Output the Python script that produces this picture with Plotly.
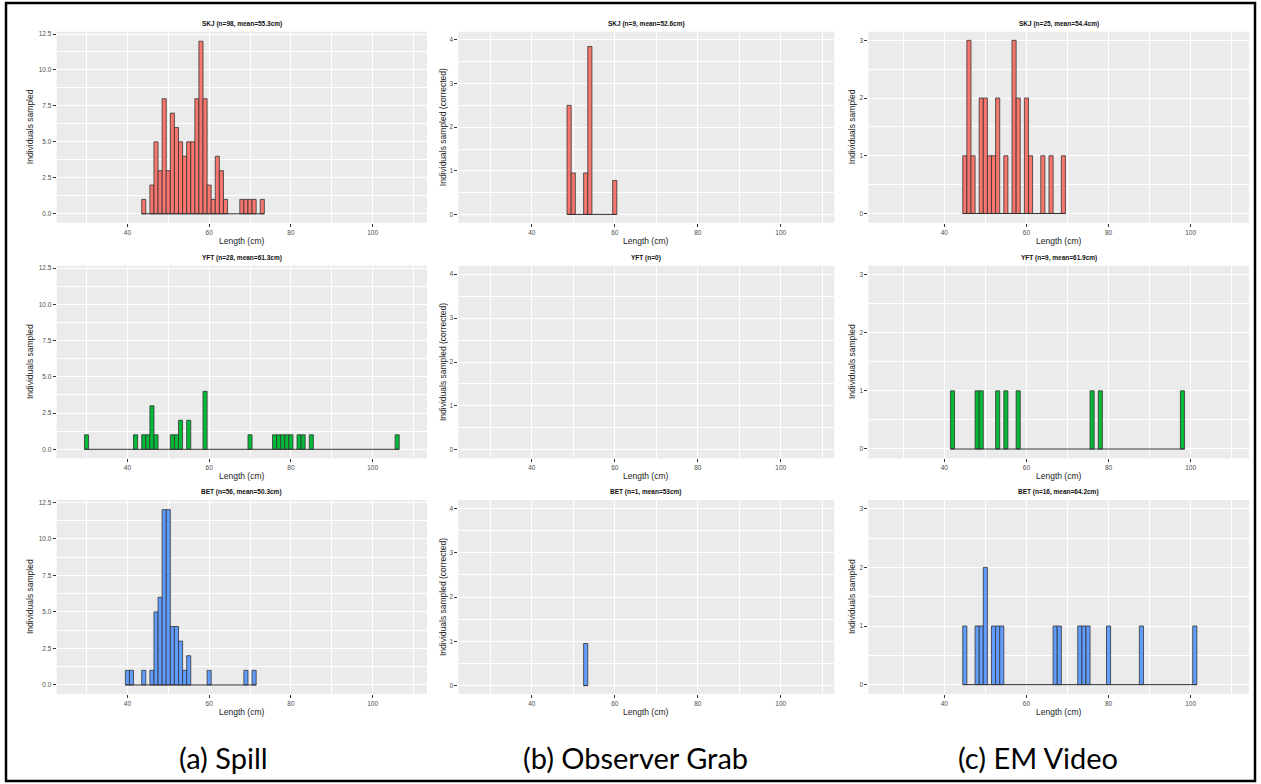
import plotly.graph_objects as go

# ---------------- data ----------------
spill_skj_len = [44, 46, 47, 48, 49, 50, 51, 52, 53, 54, 55, 56, 57, 58, 59, 60, 61, 62, 63, 64, 68, 69, 70, 71, 73]
spill_skj_cnt = [1, 2, 5, 3, 8, 3, 7, 6, 5, 4, 5, 5, 8, 12, 8, 2, 1, 4, 3, 1, 1, 1, 1, 1, 1]
spill_yft_len = [30, 42, 44, 45, 46, 47, 51, 52, 53, 55, 59, 70, 76, 77, 78, 79, 80, 82, 83, 85, 106]
spill_yft_cnt = [1, 1, 1, 1, 3, 1, 1, 1, 2, 2, 4, 1, 1, 1, 1, 1, 1, 1, 1, 1, 1]
spill_bet_len = [40, 41, 44, 46, 47, 48, 49, 50, 51, 52, 53, 54, 55, 60, 69, 71]
spill_bet_cnt = [1, 1, 1, 1, 5, 6, 12, 12, 4, 4, 3, 1, 2, 1, 1, 1]

obs_skj_len = [49, 50, 53, 54, 60]
obs_skj_cnt = [2.5, 0.95, 0.95, 3.85, 0.78]
obs_yft_len = []
obs_yft_cnt = []
obs_bet_len = [53]
obs_bet_cnt = [0.95]

em_skj_len = [45, 46, 47, 49, 50, 51, 52, 53, 55, 57, 58, 60, 61, 64, 66, 69]
em_skj_cnt = [1, 3, 1, 2, 2, 1, 1, 2, 1, 3, 2, 2, 1, 1, 1, 1]
em_yft_len = [42, 48, 49, 53, 55, 58, 76, 78, 98]
em_yft_cnt = [1, 1, 1, 1, 1, 1, 1, 1, 1]
em_bet_len = [45, 48, 49, 50, 52, 53, 54, 67, 68, 73, 74, 75, 80, 88, 101]
em_bet_cnt = [1, 1, 1, 2, 1, 1, 1, 1, 1, 1, 1, 1, 1, 1, 1]

panel_titles = [
    ["SKJ (n=98, mean=55.3cm)", "SKJ (n=9, mean=52.6cm)", "SKJ (n=25, mean=54.4cm)"],
    ["YFT (n=28, mean=61.3cm)", "YFT (n=0)", "YFT (n=9, mean=61.9cm)"],
    ["BET (n=56, mean=50.3cm)", "BET (n=1, mean=53cm)", "BET (n=16, mean=64.2cm)"],
]
y_titles = ["Individuals sampled", "Individuals sampled (corrected)", "Individuals sampled"]
x_title = "Length (cm)"
method_labels = ["(a) Spill", "(b) Observer Grab", "(c) EM Video"]

species_colors = ["#F8766D", "#00BA38", "#619CFF"]

data = [
    [(spill_skj_len, spill_skj_cnt), (obs_skj_len, obs_skj_cnt), (em_skj_len, em_skj_cnt)],
    [(spill_yft_len, spill_yft_cnt), (obs_yft_len, obs_yft_cnt), (em_yft_len, em_yft_cnt)],
    [(spill_bet_len, spill_bet_cnt), (obs_bet_len, obs_bet_cnt), (em_bet_len, em_bet_cnt)],
]

# ---------------- layout geometry (pixels) ----------------
W, H = 1261, 784
def fx(p):
    return p / W
def fy(p):
    return 1 - p / H

col_px = [(56.7, 427.0), (458.3, 834.3), (868.3, 1249.0)]
row_px = [(31.7, 222.7), (265.7, 458.3), (500.0, 694.0)]
x_ranges = [[22.7, 113.3], [22.3, 112.9], [21.5, 114.2]]
y_ranges = [[-0.62, 12.66], [-0.19, 4.19], [-0.16, 3.15]]
y_dtick = [2.5, 1, 1]
y_minor = [1.25, 0.5, 0.5]
y_fmt = [".1f", "d", "d"]
ytitle_x = [30, 443, 852]
label_x = [223, 635, 1038]

fig = go.Figure()
layout = dict(
    width=W, height=H,
    margin=dict(l=0, r=0, t=0, b=0, pad=0),
    paper_bgcolor="white",
    plot_bgcolor="#EBEBEB",
    showlegend=False,
    font=dict(family="Liberation Sans, Arial, sans-serif"),
)
annotations = []

for r in range(3):
    for c in range(3):
        k = r * 3 + c + 1
        xs = "" if k == 1 else str(k)
        lens, cnts = data[r][c]
        col = species_colors[r]
        if len(lens) > 0:
            fig.add_trace(go.Scatter(
                x=[min(lens) - 0.5, max(lens) + 0.5], y=[0, 0], mode="lines",
                line=dict(color="#333333", width=1), xaxis="x" + xs, yaxis="y" + xs,
                hoverinfo="skip"))
        fig.add_trace(go.Bar(
            x=lens, y=cnts, width=1, marker=dict(color=col, line=dict(color="#333333", width=0.8)),
            xaxis="x" + xs, yaxis="y" + xs))
        x0, x1 = col_px[c]
        y0, y1 = row_px[r]
        layout["xaxis" + xs] = dict(
            domain=[fx(x0), fx(x1)], range=x_ranges[c], anchor="y" + xs,
            tick0=0, dtick=20, ticks="outside", ticklen=3, tickwidth=1, tickcolor="#333333",
            tickfont=dict(size=6.5, color="#4D4D4D"),
            showgrid=True, gridcolor="white", gridwidth=1,
            minor=dict(dtick=10, tick0=0, showgrid=True, gridcolor="white", gridwidth=0.5),
            zeroline=False, showline=False,
        )
        layout["yaxis" + xs] = dict(
            domain=[fy(y1), fy(y0)], range=y_ranges[c], anchor="x" + xs,
            tick0=0, dtick=y_dtick[c], tickformat=y_fmt[c],
            ticks="outside", ticklen=3, tickwidth=1, tickcolor="#333333",
            tickfont=dict(size=6.5, color="#4D4D4D"),
            showgrid=True, gridcolor="white", gridwidth=1,
            minor=dict(dtick=y_minor[c], tick0=0, showgrid=True, gridcolor="white", gridwidth=0.5),
            zeroline=False, showline=False,
        )
        cx = (x0 + x1) / 2
        annotations.append(dict(
            x=fx(cx), y=fy(y0 - 8), xref="paper", yref="paper", showarrow=False,
            text="<b>" + panel_titles[r][c] + "</b>", font=dict(size=6.5, color="#111111"),
            xanchor="center", yanchor="middle"))
        annotations.append(dict(
            x=fx(cx), y=fy(y1 + 18), xref="paper", yref="paper", showarrow=False,
            text=x_title, font=dict(size=8.5, color="#222222"),
            xanchor="center", yanchor="middle"))
        annotations.append(dict(
            x=fx(ytitle_x[c]), y=fy((y0 + y1) / 2), xref="paper", yref="paper", showarrow=False,
            text=y_titles[c], textangle=-90, font=dict(size=8.5, color="#222222"),
            xanchor="center", yanchor="middle"))

for i, lab in enumerate(method_labels):
    annotations.append(dict(
        x=fx(label_x[i]), y=fy(757), xref="paper", yref="paper", showarrow=False,
        text=lab, font=dict(family="Lato, Open Sans, sans-serif", size=29, color="#000000"),
        xanchor="center", yanchor="middle"))

layout["annotations"] = annotations
layout["shapes"] = [dict(
    type="rect", xref="paper", yref="paper",
    x0=fx(6), x1=fx(1255), y0=fy(781), y1=fy(3),
    line=dict(color="black", width=2.5), fillcolor="rgba(0,0,0,0)", layer="above")]

fig.update_layout(**layout)
fig.write_html("out.html")
